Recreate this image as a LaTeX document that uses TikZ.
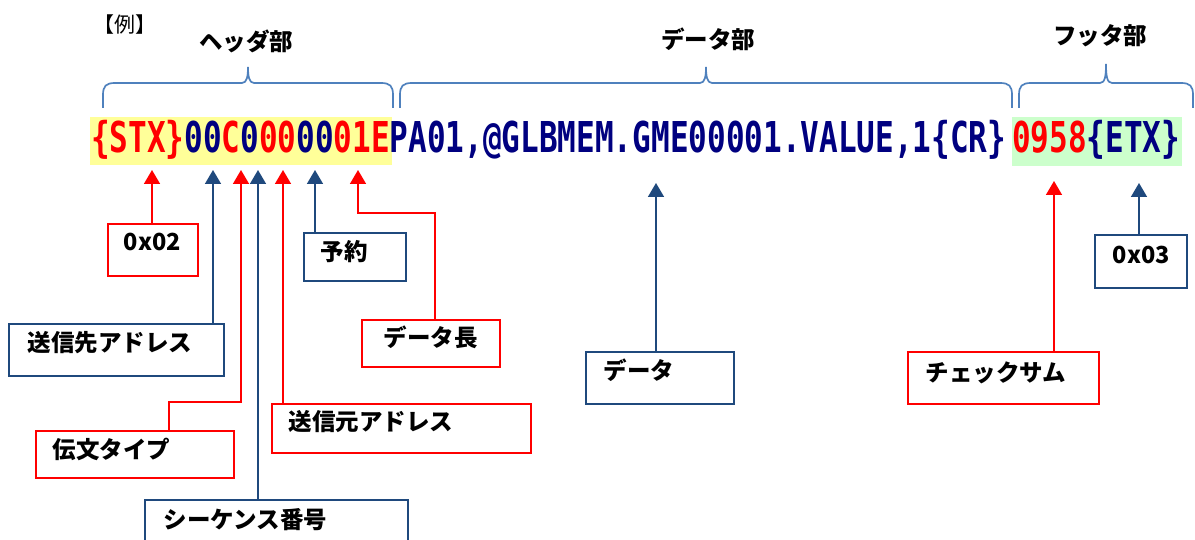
\documentclass[tikz,border=0pt]{standalone}
\usepackage{fontspec}
\usetikzlibrary{arrows.meta}
\newfontfamily\jpfont{Noto Sans CJK JP}
\newfontfamily\codefont{DejaVu Sans Mono}[FakeStretch=0.73]
\definecolor{fieldred}{HTML}{FF0000}
\definecolor{fieldblue}{HTML}{1F497D}
\definecolor{codeblue}{HTML}{000080}
\definecolor{bracecol}{HTML}{4F81BD}
\definecolor{headfill}{HTML}{FFFF99}
\definecolor{footfill}{HTML}{CCFFCC}
\tikzset{
  part brace/.style={bracecol, line width=1.7pt},
  part title/.style={font=\jpfont\bfseries\fontsize{23.5}{24}\selectfont, inner sep=0pt},
  code text/.style={anchor=base west, inner sep=0pt, font=\codefont\bfseries\fontsize{42.5}{43}\selectfont},
  field box/.style={draw, fill=white, line width=1.6pt, anchor=north west, align=left,
    inner ysep=0pt, font=\jpfont\bfseries\fontsize{23.5}{24}\selectfont},
  red box/.style={field box, draw=fieldred},
  blue box/.style={field box, draw=fieldblue},
  field arrow/.style={-{Triangle[width=16pt,length=14pt]}, line width=1.6pt},
  red arrow/.style={field arrow, fieldred},
  blue arrow/.style={field arrow, fieldblue},
}
% left x, right x, tip x, tip y
\newcommand\partbrace[4]{%
  \draw[part brace] (#1,108) -- (#1,95) .. controls (#1,86) and (#1+3,83) .. (#1+12,83)
    -- (#3-6,83) .. controls (#3-1,83) and (#3,76) .. (#3,#4)
    .. controls (#3,76) and (#3+1,83) .. (#3+6,83)
    -- (#2-12,83) .. controls (#2-3,83) and (#2,86) .. (#2,95) -- (#2,108);}

\begin{document}
\begin{tikzpicture}[x=1pt,y=-1pt]
  \useasboundingbox (0,0) rectangle (1195,540);

  % titles
  \node[font=\jpfont\fontsize{21}{22}\selectfont, inner sep=0pt] (ex) at (125,25) {【例】};
  \node[part title] (hdr) at (246,41) {ヘッダ部};
  \node[part title] (body) at (708,39) {データ部};
  \node[part title] (ftr) at (1100,36) {フッタ部};

  \partbrace{103}{393}{248}{67}
  \partbrace{400}{1012}{706}{67}
  \partbrace{1019}{1193}{1106}{64}

  % the message
  \fill[headfill] (90,117) rectangle (392,165);
  \fill[footfill] (1012,117) rectangle (1182,166);
  \node[code text] (msg) at (90.8,153)
    {\textcolor{fieldred}{\{STX\}}\textcolor{codeblue}{00}\textcolor{fieldred}{C}%
     \textcolor{codeblue}{0}\textcolor{fieldred}{00}\textcolor{codeblue}{00}%
     \textcolor{fieldred}{01E}\textcolor{codeblue}{PA01,@GLBMEM.GME00001.VALUE,1\{CR\}}};
  \node[code text] (trailer) at (1012,153)
    {\textcolor{fieldred}{0958}\textcolor{codeblue}{\{ETX\}}};

  % arrow tips under the message
  \coordinate (tSTX) at (152,170);
  \coordinate (tDst) at (213,170);
  \coordinate (tType) at (241,170);
  \coordinate (tSeq) at (258,170);
  \coordinate (tSrc) at (283,170);
  \coordinate (tRsv) at (315,170);
  \coordinate (tLen) at (358,170);
  \coordinate (tData) at (656,183);
  \coordinate (tSum) at (1054,181);
  \coordinate (tEtx) at (1139,183);

  % field boxes
  \node[red box, inner xsep=16pt, text width=58pt, text height=27pt, text depth=25pt] (stx) at (107,223) {0x02};
  \node[blue box, inner xsep=17pt, text width=68pt, text height=28pt, text depth=20pt] (rsv) at (303,232) {予約};
  \node[blue box, inner xsep=19pt, text width=177pt, text height=28pt, text depth=24pt] (dst) at (8,323) {送信先アドレス};
  \node[red box, inner xsep=22pt, text width=94pt, text height=27pt, text depth=20pt] (len) at (361,319) {データ長};
  \node[red box, inner xsep=17pt, text width=164pt, text height=28pt, text depth=19pt] (type) at (35,430) {伝文タイプ};
  \node[red box, inner xsep=17pt, text width=225pt, text height=27pt, text depth=22pt] (src) at (271,403) {送信元アドレス};
  \node[blue box, inner xsep=19pt, text width=225pt, text height=29pt, text depth=22pt] (seq) at (144,499) {シーケンス番号};
  \node[blue box, inner xsep=18pt, text width=112pt, text height=28pt, text depth=24pt] (data) at (585,351) {データ};
  \node[red box, inner xsep=18pt, text width=155pt, text height=30pt, text depth=22pt] (sum) at (907,351) {チェックサム};
  \node[blue box, inner xsep=18pt, text width=56pt, text height=29pt, text depth=24pt] (etx) at (1094,234) {0x03};

  % connectors
  \draw[red arrow] (tSTX |- stx.north) -- (tSTX);
  \draw[blue arrow] (tDst |- dst.north) -- (tDst);
  \draw[red arrow] ([xshift=134pt]type.north west) -- ++(0,-28) -| (tType);
  \draw[blue arrow] (tSeq |- seq.north) -- (tSeq);
  \draw[red arrow] (tSrc |- src.north) -- (tSrc);
  \draw[blue arrow] (tRsv |- rsv.north) -- (tRsv);
  \draw[red arrow] ([xshift=74pt]len.north west) -- ++(0,-106) -| (tLen);
  \draw[blue arrow] (tData |- data.north) -- (tData);
  \draw[red arrow] (tSum |- sum.north) -- (tSum);
  \draw[blue arrow] (tEtx |- etx.north) -- (tEtx);
\end{tikzpicture}
\end{document}
